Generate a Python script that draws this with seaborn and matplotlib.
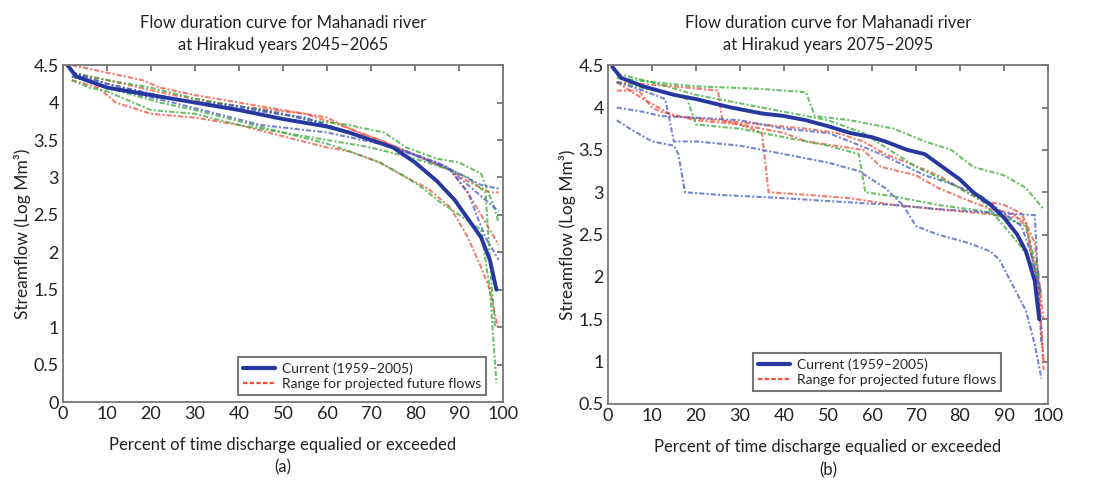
import numpy as np
import pandas as pd
import matplotlib
matplotlib.use("Agg")
import matplotlib.pyplot as plt
import seaborn as sns
from matplotlib.ticker import FuncFormatter, MultipleLocator
from matplotlib.lines import Line2D

# ---------------- data: panel (a) 2045-2065 ----------------
a_cur_x = [1, 3, 10, 20, 30, 40, 50, 60, 65, 70, 75, 80, 85, 89, 92, 95, 97, 98.5]
a_cur_y = [4.5, 4.35, 4.2, 4.1, 4.0, 3.9, 3.78, 3.68, 3.6, 3.5, 3.4, 3.2, 2.95, 2.7, 2.45, 2.2, 1.9, 1.5]

a_red1_x = [2, 10, 18, 22, 30, 40, 50, 60, 67, 72, 80, 88, 92, 97, 99]
a_red1_y = [4.5, 4.4, 4.3, 4.2, 4.1, 4.0, 3.9, 3.8, 3.6, 3.5, 3.3, 3.1, 2.95, 2.8, 2.8]
a_red2_x = [2, 8, 12, 20, 30, 40, 50, 60, 65, 72, 78, 83, 88, 92, 95, 97, 98.8]
a_red2_y = [4.3, 4.2, 4.0, 3.85, 3.8, 3.7, 3.55, 3.4, 3.35, 3.2, 3.0, 2.85, 2.6, 2.2, 1.8, 1.5, 1.0]
a_red3_x = [2, 10, 25, 40, 55, 63, 72, 80, 88, 92, 95, 99]
a_red3_y = [4.4, 4.3, 4.1, 3.95, 3.85, 3.7, 3.5, 3.3, 3.1, 2.8, 2.5, 2.1]
a_grn1_x = [2, 6, 10, 20, 30, 40, 50, 60, 65, 72, 78, 82, 85, 90, 95, 97, 98.5]
a_grn1_y = [4.3, 4.2, 4.15, 3.9, 3.85, 3.7, 3.6, 3.45, 3.35, 3.2, 3.0, 2.85, 2.7, 2.5, 2.3, 1.5, 0.25]
a_grn2_x = [2, 10, 20, 30, 45, 58, 65, 73, 78, 85, 90, 95, 98, 99]
a_grn2_y = [4.4, 4.3, 4.2, 4.05, 3.9, 3.75, 3.7, 3.6, 3.4, 3.25, 3.2, 3.05, 2.6, 2.4]
a_grn3_x = [2, 10, 22, 30, 40, 50, 60, 70, 80, 88, 92, 96, 97.5, 98.2]
a_grn3_y = [4.35, 4.2, 4.0, 3.9, 3.75, 3.6, 3.5, 3.4, 3.25, 3.1, 3.0, 2.8, 1.5, 1.0]
a_blu1_x = [2, 10, 25, 40, 50, 60, 70, 78, 85, 90, 95, 99]
a_blu1_y = [4.4, 4.25, 4.05, 3.95, 3.85, 3.7, 3.5, 3.35, 3.2, 3.05, 2.9, 2.85]
a_blu2_x = [2, 10, 25, 35, 45, 60, 72, 80, 87, 92, 96, 99]
a_blu2_y = [4.35, 4.2, 4.0, 3.85, 3.7, 3.6, 3.45, 3.3, 3.15, 2.9, 2.7, 2.55]
a_blu3_x = [2, 10, 25, 40, 55, 65, 75, 82, 88, 92, 96, 99]
a_blu3_y = [4.4, 4.25, 4.05, 3.92, 3.8, 3.6, 3.4, 3.25, 3.1, 2.8, 2.2, 1.9]

# ---------------- data: panel (b) 2075-2095 ----------------
b_cur_x = [1, 3, 8, 15, 20, 28, 35, 40, 45, 50, 55, 60, 63, 68, 72, 76, 80, 83, 87, 90, 93, 95, 97, 98]
b_cur_y = [4.48, 4.35, 4.25, 4.15, 4.1, 4.0, 3.93, 3.9, 3.85, 3.78, 3.7, 3.65, 3.6, 3.5, 3.45, 3.3, 3.15, 3.0, 2.85, 2.7, 2.5, 2.3, 1.95, 1.5]

b_blu1_x = [2, 5, 10, 15, 16, 17.5, 25, 40, 55, 65, 75, 90, 97, 98.5]
b_blu1_y = [3.85, 3.75, 3.6, 3.55, 3.45, 3.0, 2.97, 2.93, 2.88, 2.85, 2.8, 2.75, 2.73, 1.2]
b_blu2_x = [2, 8, 12, 20, 30, 40, 50, 55, 62, 68, 72, 78, 85, 90, 94, 96, 98.5]
b_blu2_y = [4.0, 3.95, 3.9, 3.88, 3.85, 3.75, 3.7, 3.6, 3.45, 3.3, 3.2, 3.1, 2.95, 2.75, 2.6, 2.3, 1.8]
b_blu3_x = [2, 8, 13, 15, 20, 30, 40, 50, 57, 63, 67, 70, 75, 82, 87, 89, 92, 95, 97, 98.5]
b_blu3_y = [4.3, 4.2, 4.1, 3.6, 3.6, 3.55, 3.45, 3.35, 3.25, 3.05, 2.85, 2.6, 2.5, 2.4, 2.3, 2.2, 1.9, 1.6, 1.2, 0.8]
b_red1_x = [2, 7, 10, 12, 20, 30, 40, 45, 58, 62, 70, 75, 82, 87, 92, 95, 98, 99]
b_red1_y = [4.2, 4.2, 4.0, 3.95, 3.85, 3.8, 3.7, 3.6, 3.5, 3.3, 3.2, 3.05, 2.9, 2.8, 2.75, 2.6, 1.8, 0.9]
b_red2_x = [2, 15, 25, 26, 30, 35, 36.5, 45, 55, 65, 75, 85, 93, 95, 98, 99]
b_red2_y = [4.3, 4.25, 4.2, 3.85, 3.8, 3.7, 3.0, 2.97, 2.93, 2.85, 2.8, 2.75, 2.7, 2.65, 1.8, 1.0]
b_red3_x = [2, 8, 15, 25, 35, 45, 52, 58, 63, 68, 75, 80, 85, 90, 94, 97, 99]
b_red3_y = [4.3, 4.1, 3.9, 3.85, 3.8, 3.75, 3.7, 3.6, 3.45, 3.35, 3.2, 3.05, 2.9, 2.85, 2.75, 2.4, 1.5]
b_grn1_x = [2, 10, 20, 35, 45, 47, 55, 60, 65, 72, 78, 83, 90, 95, 99]
b_grn1_y = [4.35, 4.3, 4.25, 4.22, 4.18, 3.9, 3.85, 3.8, 3.75, 3.6, 3.5, 3.3, 3.2, 3.05, 2.8]
b_grn2_x = [2, 15, 18, 20, 30, 40, 50, 57, 58.5, 65, 75, 85, 90, 95, 98]
b_grn2_y = [4.3, 4.15, 4.1, 3.8, 3.75, 3.65, 3.55, 3.45, 3.0, 2.95, 2.85, 2.78, 2.7, 2.6, 2.0]
b_grn3_x = [2, 10, 20, 30, 40, 50, 58, 64, 70, 78, 85, 90, 94, 97, 98.5]
b_grn3_y = [4.4, 4.3, 4.15, 4.05, 3.95, 3.85, 3.7, 3.5, 3.3, 3.1, 2.9, 2.6, 2.35, 2.1, 1.8]

titles = ["Flow duration curve for Mahanadi river\nat Hirakud years 2045\u20132065",
          "Flow duration curve for Mahanadi river\nat Hirakud years 2075\u20132095"]
xlabel = "Percent of time discharge equalied or exceeded"
ylabel = "Streamflow (Log Mm\u00b3)"
panel_tags = ["(a)", "(b)"]
legend_labels = ["Current (1959\u20132005)", "Range for projected future flows"]

RED = "#f0503c"
GREEN = "#3aac3a"
BLUE_D = "#4a5cc0"
BLUE = "#2638a0"

sns.set_style("white")
plt.rcParams['font.family'] = ['Lato', 'DejaVu Sans']

fig = plt.figure(figsize=(11.09, 4.84), dpi=100)
axA = fig.add_axes([0.0568, 0.1694, 0.3968, 0.696])
axB = fig.add_axes([0.5482, 0.1653, 0.3968, 0.700])

panels = [
    (axA, (a_cur_x, a_cur_y),
     [(a_red1_x, a_red1_y, RED), (a_red2_x, a_red2_y, RED), (a_red3_x, a_red3_y, RED),
      (a_grn1_x, a_grn1_y, GREEN), (a_grn2_x, a_grn2_y, GREEN), (a_grn3_x, a_grn3_y, GREEN),
      (a_blu1_x, a_blu1_y, BLUE_D), (a_blu2_x, a_blu2_y, BLUE_D), (a_blu3_x, a_blu3_y, BLUE_D)],
     (0, 4.5), (0.968, 0.012)),
    (axB, (b_cur_x, b_cur_y),
     [(b_red1_x, b_red1_y, RED), (b_red2_x, b_red2_y, RED), (b_red3_x, b_red3_y, RED),
      (b_grn1_x, b_grn1_y, GREEN), (b_grn2_x, b_grn2_y, GREEN), (b_grn3_x, b_grn3_y, GREEN),
      (b_blu1_x, b_blu1_y, BLUE_D), (b_blu2_x, b_blu2_y, BLUE_D), (b_blu3_x, b_blu3_y, BLUE_D)],
     (0.5, 4.5), (0.9, 0.03)),
]

for i, (ax, cur, proj, ylim, anchor) in enumerate(panels):
    for (px, py, col) in proj:
        sns.lineplot(x=px, y=py, ax=ax, color=col, lw=1.5, alpha=0.75,
                     linestyle=(0, (2.5, 1, 1, 1)), estimator=None, sort=False)
    sns.lineplot(x=cur[0], y=cur[1], ax=ax, color=BLUE, lw=2.8, estimator=None, sort=False)
    ax.set_xlim(0, 100)
    ax.set_ylim(*ylim)
    ax.xaxis.set_major_locator(MultipleLocator(10))
    ax.yaxis.set_major_locator(MultipleLocator(0.5))
    ax.yaxis.set_major_formatter(FuncFormatter(lambda v, p: f"{v:g}"))
    ax.tick_params(direction="in", length=4, width=1.2, color="#666666", top=True, right=True,
                   labelsize=13, pad=3, labelcolor="#222222")
    for s in ax.spines.values():
        s.set_color("#777777")
        s.set_linewidth(1.3)
    ax.set_xlabel(xlabel, fontsize=12, color="#222222", labelpad=11)
    ax.set_ylabel(ylabel, fontsize=12.5, color="#222222", labelpad=2)
    ax.set_title(titles[i], fontsize=12, color="#222222", pad=11, linespacing=1.45)
    ax.text(0.5, -0.195, panel_tags[i], transform=ax.transAxes, ha="center", va="center",
            fontsize=12, color="#222222")
    handles = [Line2D([], [], color=BLUE, lw=3),
               Line2D([], [], color=RED, lw=1.6, linestyle=(0, (2, 1)))]
    leg = ax.legend(handles, legend_labels, loc="lower right", bbox_to_anchor=anchor,
                    fontsize=10, frameon=True, fancybox=False, handlelength=2.3,
                    borderpad=0.35, labelspacing=0.25, handletextpad=0.5, borderaxespad=0.2)
    leg.get_frame().set_edgecolor("#555555")
    leg.get_frame().set_linewidth(1.5)

fig.savefig("out.png", dpi=100)
